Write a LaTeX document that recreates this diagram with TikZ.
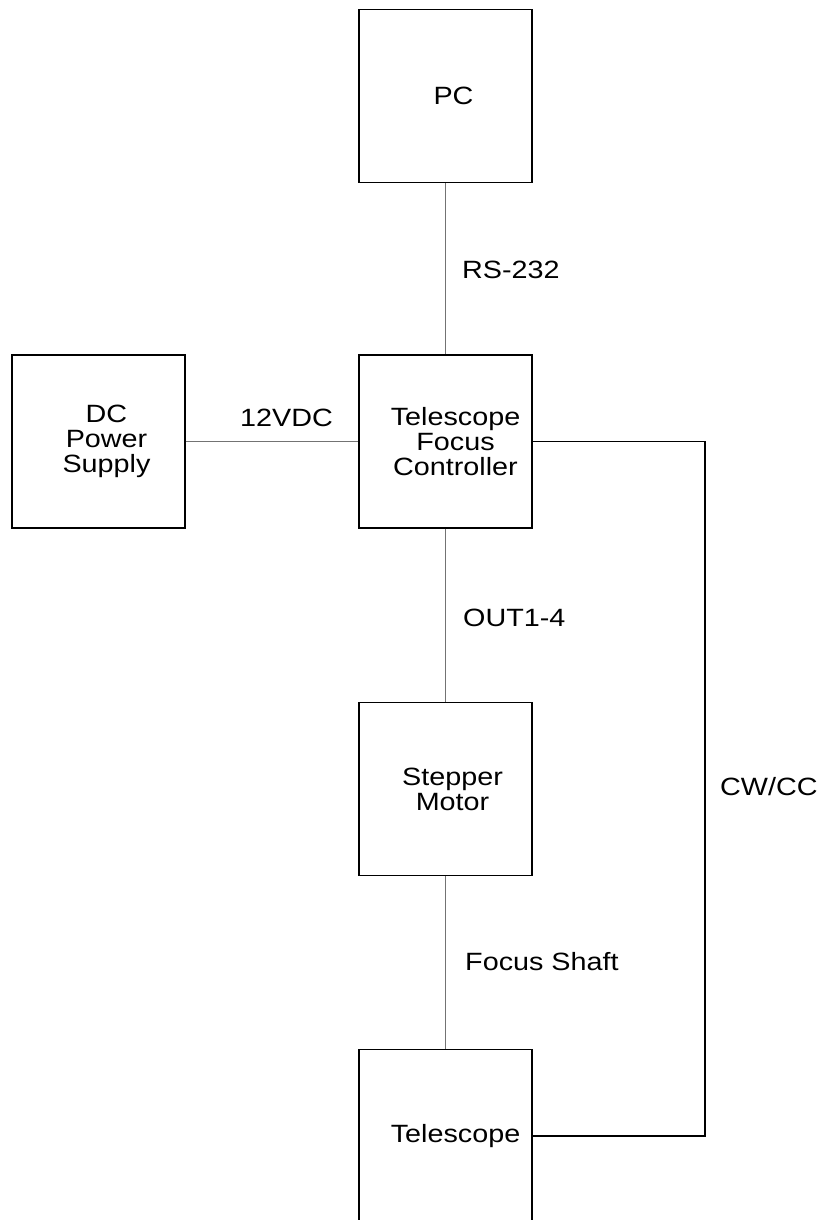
\documentclass[tikz,border=0pt]{standalone}
\usepackage{fontspec}
\setmainfont{Liberation Sans}[FakeStretch=1.15]
\begin{document}
\begin{tikzpicture}[x=1pt,y=-1pt,
  box/.style={draw=black, line width=1.2pt, minimum width=173pt, minimum height=173pt, inner sep=0pt},
  txt/.style={font=\fontsize{25}{25}\selectfont, align=center, inner sep=0pt},
  conn/.style={draw=black!55, line width=1.5pt},
  wire/.style={draw=black, line width=1.3pt},
  lab/.style={font=\fontsize{25}{25}\selectfont, anchor=west, inner sep=0pt}]
\useasboundingbox (0,0) rectangle (824,1220);
\node[box, label={[txt, xshift=8pt]center:PC}] (pc) at (445.5,96) {};
\node[box, label={[txt, xshift=8pt]center:DC\\Power\\Supply}] (dc) at (98.5,441.5) {};
\node[box, label={[txt, xshift=10pt]center:Telescope\\Focus\\Controller}] (tfc) at (445.5,441.5) {};
\node[box, label={[txt, xshift=7pt]center:Stepper\\Motor}] (sm) at (445.5,789) {};
\node[box, label={[txt, xshift=10pt]center:Telescope}] (tel) at (445.5,1136) {};
\coordinate (c1) at (705,441.5);
\coordinate (c2) at (705,1136);
\path[conn] (pc.south) -- (tfc.north);
\path[conn] (dc.east) -- (tfc.west);
\path[conn] (tfc.south) -- (sm.north);
\path[conn] (sm.south) -- (tel.north);
\path[wire] (tfc.east) -- (c1) -- (c2) -- (tel.east);
\node[lab] (l1) at (462,270) {RS-232};
\node[lab] (l2) at (240,418) {12VDC};
\node[lab] (l3) at (463,618) {OUT1-4};
\node[lab] (l4) at (465,962) {Focus Shaft};
\node[lab] (l5) at (720,787) {CW/CC};
\end{tikzpicture}
\end{document}
